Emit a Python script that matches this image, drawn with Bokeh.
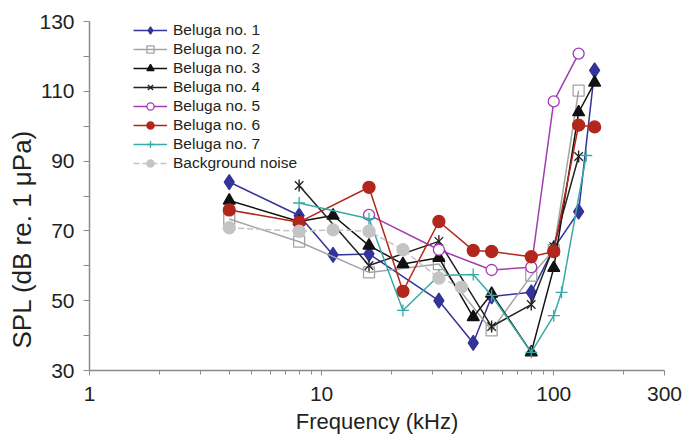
import math
from bokeh.plotting import figure
from bokeh.models import (FixedTicker, Range1d, Legend, LegendItem,
                          PrintfTickFormatter, Title)
from bokeh.embed import file_html
from bokeh.resources import INLINE

# ---- data (frequency in kHz, SPL in dB re 1 uPa) ----
b1_f = [4, 8, 11.2, 16, 32, 45, 54, 80, 100, 128, 150]
b1_v = [84.0, 74.4, 63.1, 63.4, 50.0, 37.9, 51.2, 52.4, 65.0, 75.5, 116.0]
b2_f = [4, 8, 16, 32, 54, 80, 100, 128]
b2_v = [73.4, 66.9, 58.1, 60.5, 41.5, 57.2, 64.5, 110.2]
b3_f = [4, 8, 11.2, 16, 22.4, 32, 45, 54, 80, 100, 128, 150]
b3_v = [78.7, 72.7, 74.4, 65.8, 60.5, 62.3, 45.3, 52.0, 35.2, 59.4, 104.0, 112.5]
b4_f = [8, 16, 32, 54, 80, 100, 128]
b4_v = [83.0, 60.1, 67.0, 42.6, 48.9, 65.5, 91.3]
b5_f = [16, 32, 54, 80, 100, 128]
b5_v = [74.6, 64.6, 58.8, 59.6, 107.1, 120.8]
b6_f = [4, 8, 16, 22.4, 32, 45, 54, 80, 100, 128, 150]
b6_v = [76.0, 72.5, 82.5, 52.7, 72.7, 64.4, 64.1, 62.6, 64.1, 100.3, 99.8]
b7_f = [8, 16, 22.4, 32, 45, 54, 80, 100, 108, 138]
b7_v = [78.0, 73.5, 47.2, 57.2, 57.5, 51.5, 35.2, 45.7, 52.4, 91.6]
bg_f = [4, 8, 11.2, 16, 22.4, 32, 40]
bg_v = [70.9, 69.9, 70.3, 69.9, 64.6, 56.5, 53.9]

labels = ["Beluga no. 1", "Beluga no. 2", "Beluga no. 3", "Beluga no. 4",
          "Beluga no. 5", "Beluga no. 6", "Beluga no. 7", "Background noise"]
x_title = "Frequency (kHz)"
y_title = "SPL (dB re. 1 \u03bcPa)"

x_major = [1, 10, 100, 300]
x_minor = [2, 3, 4, 5, 6, 7, 8, 9, 20, 30, 40, 50, 60, 70, 80, 90, 200]
y_major = [30, 50, 70, 90, 110, 130]
y_minor = [40, 60, 80, 100, 120]

FONT = "Liberation Sans"
TXT = "#231f20"
AX = "#8a8a8a"

p = figure(width=694, height=436, x_axis_type="log",
           x_range=Range1d(1, 300), y_range=Range1d(30, 130),
           output_backend="svg", toolbar_location=None,
           min_border_left=89, min_border_right=30, min_border_top=21,
           min_border_bottom=66)
p.outline_line_color = None
p.grid.visible = False

p.xaxis.ticker = FixedTicker(ticks=x_major, minor_ticks=x_minor)
p.xaxis.formatter = PrintfTickFormatter(format="%d")
p.yaxis.ticker = FixedTicker(ticks=y_major, minor_ticks=y_minor)

for ax in (p.xaxis[0], p.yaxis[0]):
    ax.axis_line_color = AX
    ax.axis_line_width = 1.5
    ax.major_tick_line_color = AX
    ax.minor_tick_line_color = AX
    ax.major_tick_in = 0
    ax.minor_tick_in = 0
    ax.major_label_text_font = FONT
    ax.major_label_text_color = TXT
    ax.major_label_text_font_size = "21px"
    ax.axis_label_text_font = FONT
    ax.axis_label_text_color = TXT
    ax.axis_label_text_font_style = "normal"

p.xaxis.major_tick_out = 5
p.xaxis.minor_tick_out = 4
p.yaxis.major_tick_out = 6
p.yaxis.minor_tick_out = 6
p.xaxis.major_label_standoff = 11
p.yaxis.major_label_standoff = 9
p.xaxis.axis_label = x_title
p.xaxis.axis_label_text_font_size = "22px"
p.xaxis.axis_label_standoff = 5

# y-axis title as a side title, anchored near the bottom of the frame as in the source
ytitle = Title(text=y_title, align="left", offset=22, standoff=0,
               text_font=FONT, text_font_size="26px", text_color=TXT,
               text_font_style="normal")
p.add_layout(ytitle, "left")

LW = 1.5
items = []

def series(f, v, color, label, marker, size, fill, dash="solid", extra=None):
    r_line = p.line(f, v, line_color=color, line_width=LW, line_dash=dash)
    r_mk = p.scatter(f, v, marker=marker, size=size, line_color=color,
                     fill_color=fill, line_width=1.3)
    rs = [r_line, r_mk]
    if extra is not None:
        rs.append(extra)
    items.append(LegendItem(label=label, renderers=rs))

# Beluga no. 1 - blue diamond
series(b1_f, b1_v, "#33339a", labels[0], "diamond", 15, "#33339a")
# Beluga no. 2 - grey open square
series(b2_f, b2_v, "#a3a3a3", labels[1], "square", 11, None)
# Beluga no. 3 - black triangle
series(b3_f, b3_v, "#111111", labels[2], "triangle", 12, "#111111")
# Beluga no. 4 - black star (x + vertical bar)
bar4 = p.scatter(b4_f, b4_v, marker="dash", size=12, angle=math.pi / 2,
                 line_color="#222222", line_width=1.4)
series(b4_f, b4_v, "#222222", labels[3], "x", 12, None, extra=bar4)
# Beluga no. 5 - purple open circle
series(b5_f, b5_v, "#a23bb5", labels[4], "circle", 11, "white")
# Beluga no. 6 - red filled circle
series(b6_f, b6_v, "#b3261b", labels[5], "circle", 12, "#b3261b")
# Beluga no. 7 - teal cross
series(b7_f, b7_v, "#36aaa8", labels[6], "cross", 12, None)
# Background noise - grey dashed, filled circles
series(bg_f, bg_v, "#c4c4c4", labels[7], "circle", 12, "#c4c4c4", dash="6 3")

legend = Legend(items=items, location=(44, 198),
                label_text_font=FONT, label_text_font_size="15.5px",
                label_text_color=TXT, glyph_width=34, glyph_height=18,
                label_height=18, spacing=1, padding=0, label_standoff=6,
                border_line_color=None, background_fill_alpha=0)
p.add_layout(legend, "center")

open("out.html", "w").write(file_html(p, INLINE))
